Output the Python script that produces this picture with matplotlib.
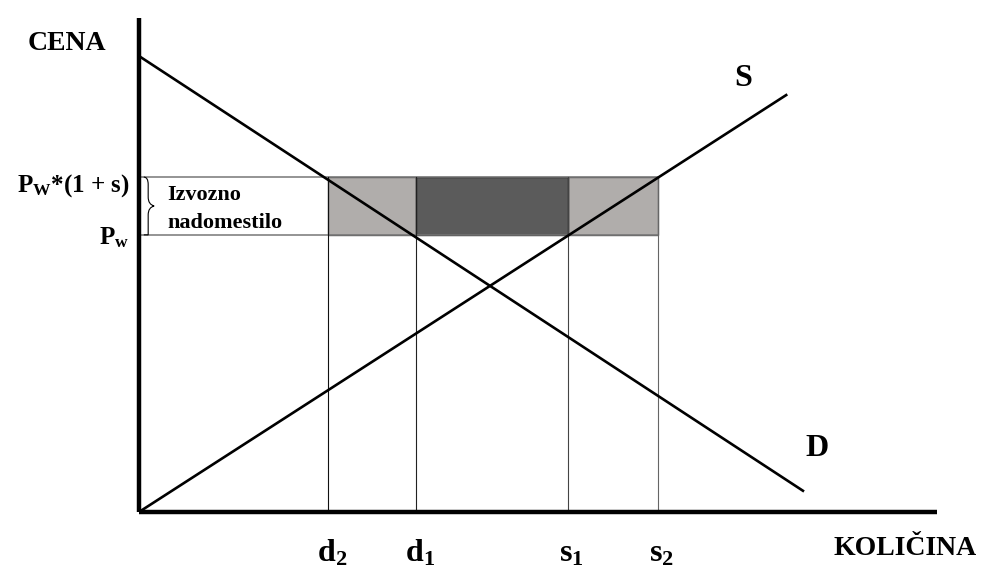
import matplotlib.pyplot as plt
from matplotlib.path import Path
from matplotlib.patches import PathPatch, Rectangle

plt.rcParams['font.family'] = ['Liberation Serif', 'DejaVu Serif']
plt.rcParams['font.weight'] = 'bold'
plt.rcParams['mathtext.fontset'] = 'custom'
plt.rcParams['mathtext.rm'] = 'Liberation Serif:bold'
plt.rcParams['mathtext.it'] = 'Liberation Serif:bold'
plt.rcParams['mathtext.bf'] = 'Liberation Serif:bold'

# curves (quantity, price), axes run 0..100 on both
demand_q = [0, 83.2]
demand_p = [92.3, 4.3]
supply_q = [0, 81.1]
supply_p = [0, 84.4]

# world price and price with export subsidy
p_w = 56.1
p_sub = 67.8

# quantities
q_names = ['d$_2$', 'd$_1$', 's$_1$', 's$_2$']
q_vals = [23.7, 34.7, 53.7, 65.0]

fig = plt.figure(figsize=(9.84, 5.69), dpi=100)
ax = fig.add_axes([139 / 984, 57 / 569, 798 / 984, 494 / 569])
ax.set_xlim(0, 100)
ax.set_ylim(0, 100)
ax.axis('off')

d2, d1, s1, s2 = q_vals

# shaded areas
ax.add_patch(Rectangle((d2, p_w), d1 - d2, p_sub - p_w, facecolor='#b0adab',
                       edgecolor='#555555', lw=1.0, zorder=1))
ax.add_patch(Rectangle((s1, p_w), s2 - s1, p_sub - p_w, facecolor='#b0adab',
                       edgecolor='#555555', lw=1.0, zorder=1))
ax.add_patch(Rectangle((d1, p_w), s1 - d1, p_sub - p_w, facecolor='#5b5b5b',
                       edgecolor='#222222', lw=1.0, zorder=1))

# price lines
for p in [p_w, p_sub]:
    ax.plot([0, s2], [p, p], color='#777777', lw=1.1, zorder=2)

# quantity drop lines
drop_cols = ['#111111', '#222222', '#444444', '#666666']
for q, c in zip(q_vals, drop_cols):
    ax.plot([q, q], [0, p_sub], color=c, lw=0.8, zorder=2)

ax.plot(demand_q, demand_p, color='black', lw=1.9, zorder=3)
ax.plot(supply_q, supply_p, color='black', lw=1.9, zorder=3)

# axes
ax.plot([0, 0], [0, 100], color='black', lw=3.2, clip_on=False, zorder=4,
        solid_capstyle='butt')
ax.plot([0, 100], [0, 0], color='black', lw=3.2, clip_on=False, zorder=4,
        solid_capstyle='butt')

# labels
ax.text(-9.0, 94.9, 'CENA', fontsize=20, ha='center', va='center')
ax.text(96.0, -7.4, 'KOLIČINA', fontsize=20, ha='center', va='center',
        clip_on=False)
ax.text(75.7, 87.7, 'S', fontsize=23, ha='center', va='center')
ax.text(85.0, 12.8, 'D', fontsize=23, ha='center', va='center')

for name, q in zip(q_names, q_vals):
    ax.text(q + 0.5, -10.0, name, fontsize=23, ha='center', va='baseline')

ax.text(-1.2, p_sub - 3.0, 'P$_\\mathrm{W}$*(1 + s)', fontsize=18,
        ha='right', va='baseline')
ax.text(-1.2, p_w - 2.0, 'P$_\\mathrm{w}$', fontsize=18, ha='right',
        va='baseline')

ax.text(3.5, 64.2, 'Izvozno', fontsize=16, ha='left', va='center')
ax.text(3.5, 58.5, 'nadomestilo', fontsize=16, ha='left', va='center')

# curly brace between the two prices
x0, xs, xt = 0.6, 1.15, 1.9
ym = (p_w + p_sub) / 2
verts = [(x0, p_sub), (xs, p_sub), (xs, p_sub - 1.5), (xs, p_sub - 2.5),
         (xs, ym + 1.8), (xs, ym + 0.3), (xt, ym),
         (xs, ym - 0.3), (xs, ym - 1.8), (xs, p_w + 2.5),
         (xs, p_w + 1.5), (xs, p_w), (x0, p_w)]
codes = [Path.MOVETO, Path.CURVE3, Path.CURVE3, Path.LINETO,
         Path.LINETO, Path.CURVE3, Path.CURVE3,
         Path.CURVE3, Path.CURVE3, Path.LINETO,
         Path.CURVE3, Path.CURVE3, Path.LINETO]
ax.add_patch(PathPatch(Path(verts, codes), facecolor='none', edgecolor='black',
                       lw=0.8, zorder=3))

fig.savefig('out.png', dpi=100)
